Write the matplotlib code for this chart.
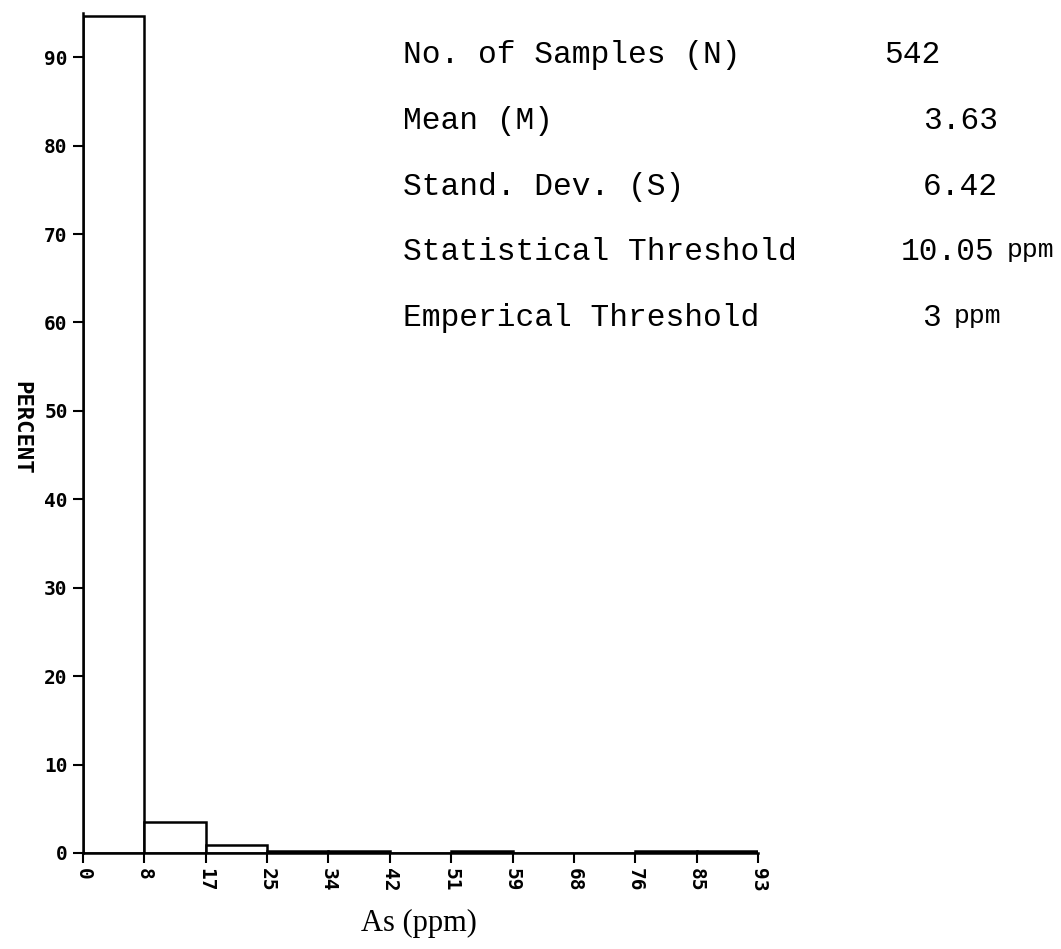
import matplotlib.pyplot as plt
import numpy as np

# arsenic histogram, 11 equal bins from 0 to 93 ppm
bin_edges = np.linspace(0, 93, 12)
percent = [94.7, 3.5, 0.9, 0.2, 0.2, 0.0, 0.2, 0.0, 0.0, 0.2, 0.2]
edge_labels = ['0', '8', '17', '25', '34', '42', '51', '59', '68', '76', '85', '93']
y_ticks = [0, 10, 20, 30, 40, 50, 60, 70, 80, 90]

stat_names = ['No. of Samples (N)', 'Mean (M)', 'Stand. Dev. (S)',
              'Statistical Threshold', 'Emperical Threshold']
stat_values = ['542', '3.63', '6.42', '10.05', '3']
stat_units = ['', '', '', 'ppm', 'ppm']

W, H = 1061, 949
fig = plt.figure(figsize=(W / 100, H / 100), dpi=100)
ax = fig.add_axes([83 / W, 1 - 853 / H, 675 / W, 840 / H])

widths = np.diff(bin_edges)
ax.bar(bin_edges[:-1], percent, width=widths, align='edge',
       facecolor='white', edgecolor='black', linewidth=1.8)

ax.set_xlim(0, 93)
ax.set_ylim(0, 95)
for side in ['top', 'right']:
    ax.spines[side].set_visible(False)
for side in ['left', 'bottom']:
    ax.spines[side].set_linewidth(1.8)

ax.set_xticks(bin_edges)
ax.set_xticklabels(edge_labels, rotation=-90, fontsize=14,
                   family='DejaVu Sans Mono', fontweight='bold')
ax.set_yticks(y_ticks)
ax.set_yticklabels([str(v) for v in y_ticks], fontsize=14,
                   family='DejaVu Sans Mono', fontweight='bold')
ax.tick_params(direction='out', length=7, width=1.5, pad=4)

ax.set_ylabel('PERCENT', rotation=-90, fontsize=16, family='DejaVu Sans Mono',
              fontweight='bold', va='center', ha='center')
ax.yaxis.set_label_coords(-0.092, 0.506)
ax.set_xlabel('As (ppm)', fontsize=22, family='Liberation Serif',
              va='center', ha='center')
ax.xaxis.set_label_coords(0.498, -0.084)

# summary statistics block: (label row y, value left x) in pixels
row_y = [55, 121, 187, 252, 318]
value_x = [884, 923, 923, 901, 922]
for name, val, unit, y, vx in zip(stat_names, stat_values, stat_units, row_y, value_x):
    fy = 1 - y / H
    fig.text(403 / W, fy, name, fontsize=22.5, family='Liberation Mono',
             va='center', ha='left')
    fig.text(vx / W, fy, val, fontsize=22.5, family='Liberation Mono',
             va='center', ha='left')
    if unit:
        ux = vx + (len(val) + 1) * 18.7 - 6
        fig.text(ux / W, fy + 0.002, unit, fontsize=19, family='Liberation Mono',
                 va='center', ha='left')

fig.savefig('out.png', dpi=100, facecolor='white')
